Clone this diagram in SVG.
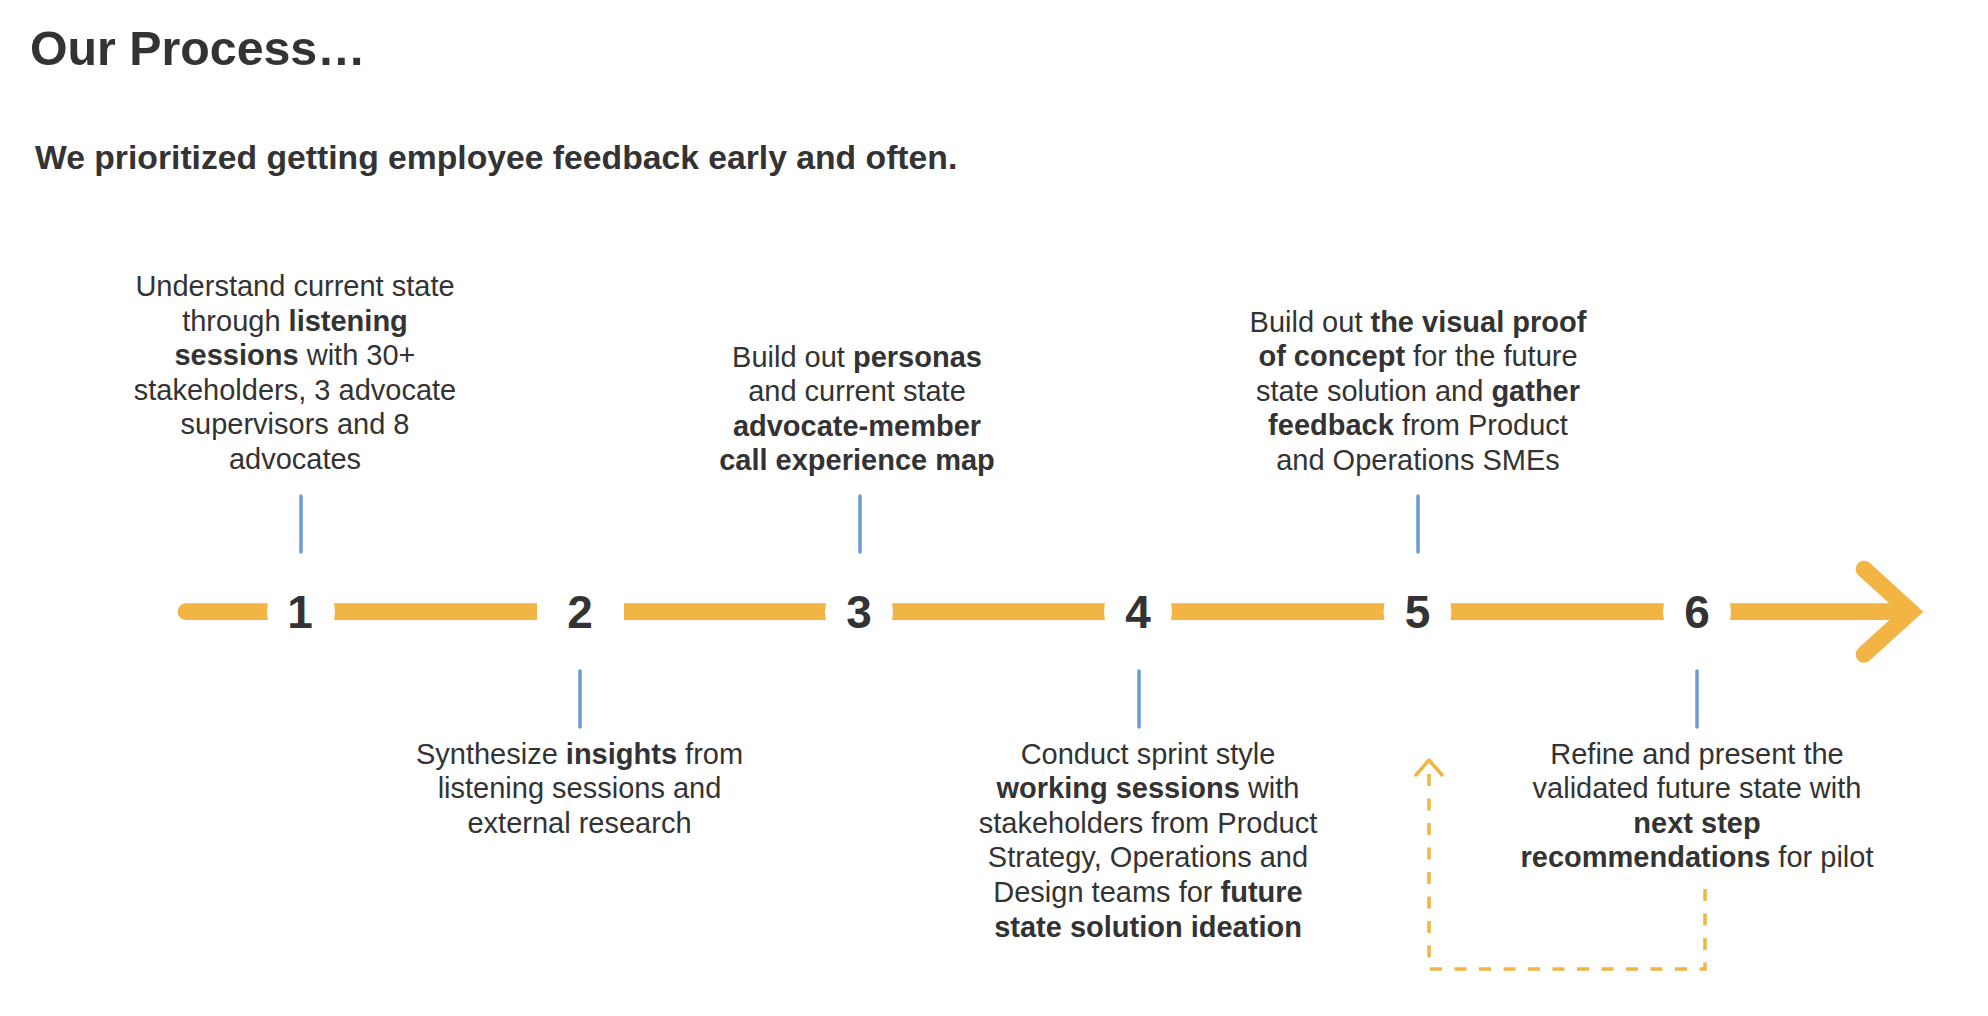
<svg xmlns="http://www.w3.org/2000/svg" width="1988" height="1016" viewBox="0 0 1988 1016">
  <style>
    .title { font-family: "Liberation Sans", Arial, sans-serif; font-weight: bold; fill: #333333; }
    .body { font-family: "Liberation Sans", Arial, sans-serif; font-size: 29px; fill: #333333; text-anchor: middle; }
    .b { font-weight: bold; }
    .num { font-family: "Liberation Sans", Arial, sans-serif; font-size: 46px; font-weight: bold; fill: #333333; text-anchor: middle; }
    .tick { stroke: #6b9bd2; stroke-width: 3.5; stroke-linecap: round; fill: none; }
    .gap { fill: #ffffff; }
    .timeline { stroke: #f2b443; stroke-width: 16.7; fill: none; }
    .loop { stroke: #f2b443; stroke-width: 3.5; fill: none; }
  </style>

  <rect width="1988" height="1016" fill="#ffffff"/>

  <text class="title" x="30" y="65" font-size="48.3">Our Process…</text>
  <text class="title" x="35" y="169" font-size="33.7">We prioritized getting employee feedback early and often.</text>

  <!-- timeline arrow and feedback loop -->
  <g id="connectors">
    <path class="timeline" d="M186,611.7 H1905" stroke-linecap="round"/>
    <path class="timeline" d="M1864,569 L1911,611.7 L1864,654.4" stroke-linecap="round" stroke-linejoin="miter"/>
    <path class="loop" d="M1705,889 V969 H1429 V766" stroke-dasharray="12 12.5"/>
    <path class="loop" d="M1416,775 L1429,760 L1442,775" stroke-linecap="round" stroke-linejoin="round"/>
  </g>

  <!-- step 1 -->
  <g id="step1">
    <circle class="gap" cx="301" cy="611.7" r="34"/>
    <text class="num" x="300" y="628">1</text>
    <line class="tick" x1="301" y1="496" x2="301" y2="552"/>
    <text class="body" x="295" y="296">Understand current state</text>
    <text class="body" x="295" y="330.6">through <tspan class="b">listening</tspan></text>
    <text class="body" x="295" y="365.2"><tspan class="b">sessions</tspan> with 30+</text>
    <text class="body" x="295" y="399.8">stakeholders, 3 advocate</text>
    <text class="body" x="295" y="434.4">supervisors and 8</text>
    <text class="body" x="295" y="469">advocates</text>
  </g>

  <!-- step 2 -->
  <g id="step2">
    <rect class="gap" x="537" y="600" width="87" height="24"/>
    <text class="num" x="580" y="628">2</text>
    <line class="tick" x1="580" y1="671" x2="580" y2="727"/>
    <text class="body" x="579.5" y="763.5">Synthesize <tspan class="b">insights</tspan> from</text>
    <text class="body" x="579.5" y="798.1">listening sessions and</text>
    <text class="body" x="579.5" y="832.7">external research</text>
  </g>

  <!-- step 3 -->
  <g id="step3">
    <circle class="gap" cx="859" cy="611.7" r="34"/>
    <text class="num" x="859" y="628">3</text>
    <line class="tick" x1="860" y1="496" x2="860" y2="552"/>
    <text class="body" x="857" y="366.5">Build out <tspan class="b">personas</tspan></text>
    <text class="body" x="857" y="401">and current state</text>
    <text class="body b" x="857" y="435.5">advocate-member</text>
    <text class="body b" x="857" y="470">call experience map</text>
  </g>

  <!-- step 4 -->
  <g id="step4">
    <circle class="gap" cx="1138" cy="611.7" r="34"/>
    <text class="num" x="1138" y="628">4</text>
    <line class="tick" x1="1139" y1="671" x2="1139" y2="727"/>
    <text class="body" x="1148" y="763.5">Conduct sprint style</text>
    <text class="body" x="1148" y="798.1"><tspan class="b">working sessions</tspan> with</text>
    <text class="body" x="1148" y="832.7">stakeholders from Product</text>
    <text class="body" x="1148" y="867.3">Strategy, Operations and</text>
    <text class="body" x="1148" y="901.9">Design teams for <tspan class="b">future</tspan></text>
    <text class="body b" x="1148" y="936.5">state solution ideation</text>
  </g>

  <!-- step 5 -->
  <g id="step5">
    <circle class="gap" cx="1417.5" cy="611.7" r="34"/>
    <text class="num" x="1417.5" y="628">5</text>
    <line class="tick" x1="1418" y1="496" x2="1418" y2="552"/>
    <text class="body" x="1418" y="331.5">Build out <tspan class="b">the visual proof</tspan></text>
    <text class="body" x="1418" y="366"><tspan class="b">of concept</tspan> for the future</text>
    <text class="body" x="1418" y="400.5">state solution and <tspan class="b">gather</tspan></text>
    <text class="body" x="1418" y="435"><tspan class="b">feedback</tspan> from Product</text>
    <text class="body" x="1418" y="469.5">and Operations SMEs</text>
  </g>

  <!-- step 6 -->
  <g id="step6">
    <circle class="gap" cx="1697" cy="611.7" r="34"/>
    <text class="num" x="1697" y="628">6</text>
    <line class="tick" x1="1697" y1="671" x2="1697" y2="727"/>
    <text class="body" x="1697" y="763.5">Refine and present the</text>
    <text class="body" x="1697" y="798.1">validated future state with</text>
    <text class="body b" x="1697" y="832.7">next step</text>
    <text class="body" x="1697" y="867.3"><tspan class="b">recommendations</tspan> for pilot</text>
  </g>
</svg>
